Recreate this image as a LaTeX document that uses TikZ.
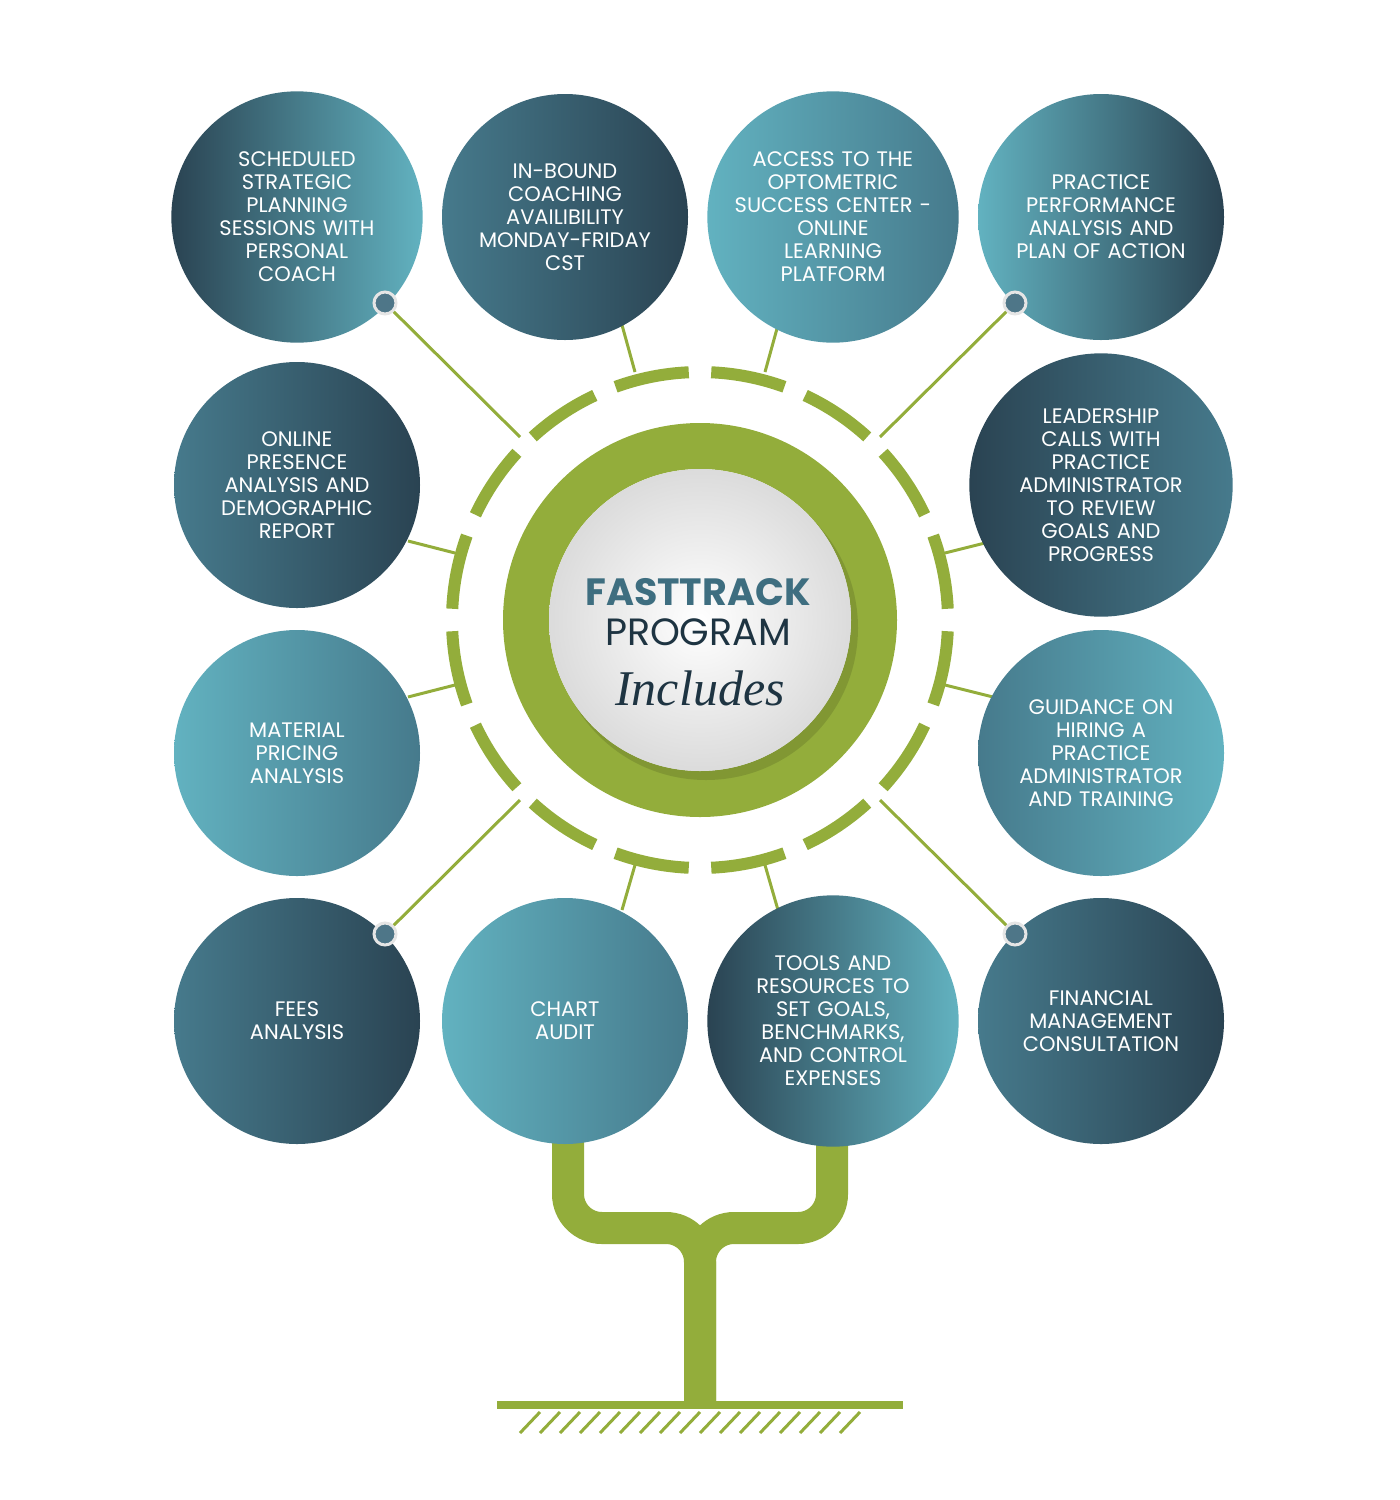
\documentclass[tikz,border=0pt]{standalone}
\usepackage{fontspec}
\setmainfont{Poppins}
\newfontfamily\serifit{Liberation Serif}
\definecolor{tdark}{HTML}{2A4352}
\definecolor{tmid}{HTML}{467A8C}
\definecolor{tlight}{HTML}{62B2C0}
\definecolor{grn}{HTML}{93AD3B}
\definecolor{dotc}{HTML}{4E7688}
\definecolor{ftc}{HTML}{3E6E80}
\definecolor{pgc}{HTML}{1E3442}
\begin{document}
\begin{tikzpicture}[x=1pt,y=-1pt,
  bub/.style={circle,minimum size=246pt,inner sep=0pt,text=white,align=center,
    font=\fontsize{21}{23}\selectfont,text width=215pt},
  link/.style={grn,line width=3pt},
  dot/.style={circle,fill=dotc,draw=white!80!gray,line width=3pt,minimum size=22pt,inner sep=0pt}]
\useasboundingbox (0,0) rectangle (1400,1500);
% tree
\draw[grn,line width=32pt,rounded corners=34pt] (568,1130) -- (568,1228) -- (700,1228) -- (700,1405);
\draw[grn,line width=32pt,rounded corners=34pt] (832,1130) -- (832,1228) -- (700,1228) -- (700,1405);
\draw[grn,line width=8pt] (497,1405) -- (903,1405);
\foreach \i in {0,...,16} \draw[grn,line width=3pt] (540+\i*20,1412) -- (520+\i*20,1433);
% connectors coordinates
\coordinate (a1) at (520,437); \coordinate (a2) at (635,372); \coordinate (a3) at (765,372); \coordinate (a4) at (880,437);
\coordinate (a5) at (455,553); \coordinate (a6) at (945,553); \coordinate (a7) at (455,685); \coordinate (a8) at (945,685);
\coordinate (a9) at (520,800); \coordinate (a10) at (635,865); \coordinate (a11) at (765,865); \coordinate (a12) at (880,800);
\coordinate (b2) at (622,325); \coordinate (b3) at (778,325); \coordinate (b5) at (408,541); \coordinate (b6) at (993,541);
\coordinate (b7) at (408,697); \coordinate (b8) at (993,697); \coordinate (b10) at (622,910); \coordinate (b11) at (778,910);
\draw[link] (b2)--(a2); \draw[link] (b3)--(a3); \draw[link] (b5)--(a5); \draw[link] (b6)--(a6);
\draw[link] (b7)--(a7); \draw[link] (b8)--(a8); \draw[link] (b10)--(a10); \draw[link] (b11)--(a11);
% bubbles
\node[bub,left color=tdark,right color=tlight] (c1) at (297,217) {SCHEDULED\\STRATEGIC\\PLANNING\\SESSIONS WITH\\PERSONAL\\COACH};
\node[bub,left color=tmid,right color=tdark] (c2) at (565,217) {IN-BOUND\\COACHING\\AVAILIBILITY\\MONDAY-FRIDAY\\CST};
\node[bub,left color=tlight,right color=tmid] (c3) at (833,217) {ACCESS TO THE\\OPTOMETRIC\\SUCCESS CENTER -\\ONLINE\\LEARNING\\PLATFORM};
\node[bub,left color=tlight,right color=tdark] (c4) at (1101,217) {PRACTICE\\PERFORMANCE\\ANALYSIS AND\\PLAN OF ACTION};
\node[bub,left color=tmid,right color=tdark] (c5) at (297,485) {ONLINE\\PRESENCE\\ANALYSIS AND\\DEMOGRAPHIC\\REPORT};
\node[bub,left color=tdark,right color=tmid] (c6) at (1101,485) {LEADERSHIP\\CALLS WITH\\PRACTICE\\ADMINISTRATOR\\TO REVIEW\\GOALS AND\\PROGRESS};
\node[bub,left color=tlight,right color=tmid] (c7) at (297,753) {MATERIAL\\PRICING\\ANALYSIS};
\node[bub,left color=tmid,right color=tlight] (c8) at (1101,753) {GUIDANCE ON\\HIRING A\\PRACTICE\\ADMINISTRATOR\\AND TRAINING};
\node[bub,left color=tmid,right color=tdark] (c9) at (297,1021) {FEES\\ANALYSIS};
\node[bub,left color=tlight,right color=tmid] (c10) at (565,1021) {CHART\\AUDIT};
\node[bub,left color=tdark,right color=tlight] (c11) at (833,1021) {TOOLS AND\\RESOURCES TO\\SET GOALS,\\BENCHMARKS,\\AND CONTROL\\EXPENSES};
\node[bub,left color=tmid,right color=tdark] (c12) at (1101,1021) {FINANCIAL\\MANAGEMENT\\CONSULTATION};
% dots
\node[dot] (d1) at (385,303) {}; \node[dot] (d4) at (1015,303) {};
\node[dot] (d9) at (385,934) {}; \node[dot] (d12) at (1015,934) {};
\draw[link] (d1)--(a1); \draw[link] (d4)--(a4); \draw[link] (d9)--(a9); \draw[link] (d12)--(a12);
% dashed ring
\foreach \i in {0,...,15} \draw[grn,line width=12pt] ({700+248*cos(22.5*\i+2.6)},{620-248*sin(22.5*\i+2.6)}) arc[start angle={-(22.5*\i+2.6)},end angle={-(22.5*\i+19.9)},radius=248];
% center
\draw[grn,line width=46pt] (700,620) circle[radius=174];
\fill[black,opacity=0.12] (706,628) circle[radius=152];
\node[circle,minimum size=302pt,inner sep=0pt,inner color=white,outer color=black!14] (ctr) at (700,620) {};
\node[font=\fontsize{38}{40}\selectfont\bfseries,text=ftc] (t1) at (698,592) {FASTTRACK};
\node[font=\fontsize{38}{40}\selectfont,text=pgc] (t2) at (698,632) {PROGRAM};
\node[font=\serifit\itshape\fontsize{50}{50}\selectfont,text=pgc] (t3) at (700,688) {Includes};
\end{tikzpicture}
\end{document}
